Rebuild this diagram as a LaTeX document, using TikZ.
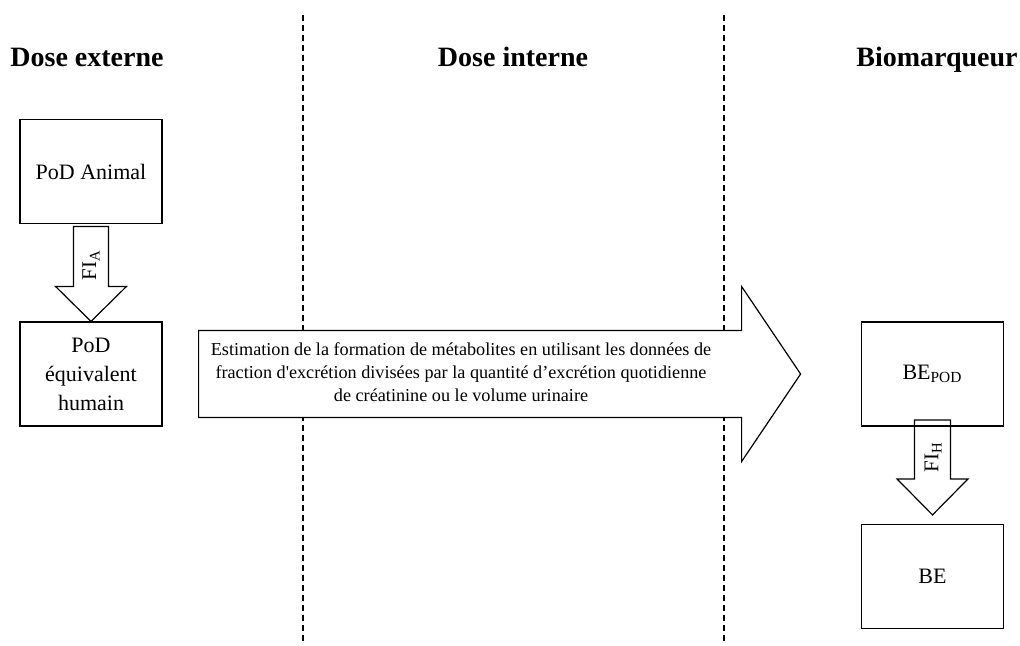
\documentclass[tikz,border=0pt]{standalone}
\usepackage{fontspec}
\setmainfont{Liberation Serif}
\usetikzlibrary{calc,backgrounds}

\tikzset{
  titre/.style={font=\fontsize{14}{17}\selectfont\bfseries, anchor=base, inner sep=0pt},
  boite/.style={draw, line width=0.6pt, minimum width=71pt, minimum height=52pt, align=center, font=\fontsize{11}{14.5}\selectfont},
  fleche/.style={draw, line width=0.6pt, line join=miter},
  separation/.style={dash pattern=on 3pt off 2pt, line width=0.6pt},
  facteur/.style={rotate=90, inner sep=0pt, font=\fontsize{10.5}{12}\selectfont}
}

\begin{document}
\begin{tikzpicture}[x=0.5pt,y=-0.5pt]
  \useasboundingbox (0,0) rectangle (1020,645);
  %% titles
  \node[titre] (ext) at (87,66) {Dose externe};
  \node[titre] (int) at (513,66) {Dose interne};
  \node[titre] (bio) at (937,66) {Biomarqueur};
  %% boxes
  \node[boite] (anim) at (91,171.5) {PoD Animal};
  \node[boite] (equiv) at (91,374) {PoD\\équivalent\\humain};
  \node[boite] (bepod) at (932.5,374) {BE\textsubscript{POD}};
  \node[boite] (be) at (932.5,576.5) {BE};
  \coordinate (pointeH) at ($(be.north)+(0,-9)$);
  %% separations
  \begin{scope}[on background layer]
    \draw[separation] (303,15) -- (303,642);
    \draw[separation] (724,15) -- (724,642);
  \end{scope}
  %% arrows
  \draw[fleche] (equiv.north) -- ++(-35.5,-35) -- ++(18,0) -- ++(0,-60) -- ++(35,0) -- ++(0,60) -- ++(18,0) -- cycle;
  \draw[fleche] (pointeH) -- ++(-35.5,-36) -- ++(17.5,0) -- ++(0,-59) -- ++(36,0) -- ++(0,59) -- ++(17.5,0) -- cycle;
  \filldraw[fleche, fill=white] ($(equiv.east)+(36,-43.5)$) -- ++(543,0) -- ++(0,-44) -- ++(59,87.5) -- ++(-59,87.5) -- ++(0,-44) -- ++(-543,0) -- cycle;
  %% labels
  \node[facteur] (fia) at (91,265) {FI\textsubscript{A}};
  \node[facteur] (fih) at (933,457) {FI\textsubscript{H}};
  \node[align=center, font=\fontsize{9.1}{11.5}\selectfont] (estim) at (461,372) {Estimation de la formation de métabolites en utilisant les données de\\fraction d\textquotesingle excrétion divisées par la quantité d’excrétion quotidienne\\de créatinine ou le volume urinaire};
\end{tikzpicture}
\end{document}
